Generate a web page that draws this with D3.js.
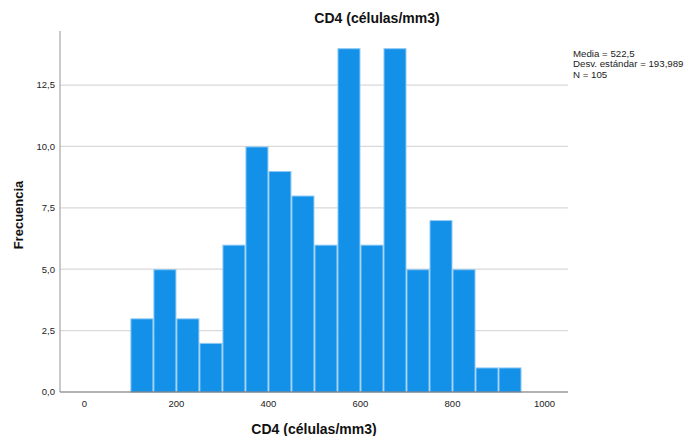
<!DOCTYPE html>
<html><head><meta charset="utf-8">
<script src="https://cdn.jsdelivr.net/npm/d3@7"></script>
<style>body{margin:0;background:#fff;} svg{display:block;font-family:"Liberation Sans",Arial,sans-serif;}</style>
</head><body>
<svg id="c" width="688" height="436"></svg>
<script>
const binStarts = [100,150,200,250,300,350,400,450,500,550,600,650,700,750,800,850,900];
const binWidth = 50;
const counts = [3,5,3,2,6,10,9,8,6,14,6,14,5,7,5,1,1];
const yTicks = [0,2.5,5,7.5,10,12.5];
const xTicks = [0,200,400,600,800,1000];
const statsLines = ["Media = 522,5","Desv. estándar = 193,989","N = 105"];
const title = "CD4 (células/mm3)";
const xTitle = "CD4 (células/mm3)";
const yTitle = "Frecuencia";

const svg = d3.select("#c");
const L=60,R=568,T=31,B=392;
const x = d3.scaleLinear().domain([-53,1051]).range([L,R]);
const y = d3.scaleLinear().domain([0,14.7]).range([B,T]);
const fmt = d => d3.format(".1f")(d).replace(".",",");

// grid
svg.append("g").selectAll("line").data(yTicks.filter(d=>d>0)).join("line")
  .attr("x1",L).attr("x2",R).attr("y1",d=>y(d)).attr("y2",d=>y(d))
  .attr("stroke","#d9d9d9").attr("stroke-width",1.3);

// bars
svg.append("g").selectAll("rect").data(counts.map((c,i)=>({x0:binStarts[i],x1:binStarts[i]+binWidth,c}))).join("rect")
  .attr("x",d=>x(d.x0)+0.5).attr("y",d=>y(d.c)+0.5)
  .attr("width",d=>x(d.x1)-x(d.x0)-1).attr("height",d=>y(0)-y(d.c)-0.5)
  .attr("fill","#1390e8").attr("stroke","#8fcaf4").attr("stroke-width",1);

// axes lines
svg.append("line").attr("x1",L).attr("x2",L).attr("y1",T).attr("y2",B).attr("stroke","#a6a6a6").attr("stroke-width",1.2);
svg.append("line").attr("x1",L).attr("x2",R).attr("y1",B).attr("y2",B).attr("stroke","#666").attr("stroke-width",1.2);

// y tick labels
svg.append("g").selectAll("text").data(yTicks).join("text")
  .attr("x",L-5).attr("y",d=>y(d)).attr("dy","0.35em").attr("text-anchor","end")
  .attr("font-size",9.5).attr("fill","#222").text(fmt);
// x tick labels
svg.append("g").selectAll("text").data(xTicks).join("text")
  .attr("x",d=>x(d)).attr("y",B+12).attr("dy","0.35em").attr("text-anchor","middle")
  .attr("font-size",9.5).attr("fill","#222").text(d=>d);

// titles
svg.append("text").attr("x",377).attr("y",23).attr("text-anchor","middle")
  .attr("font-size",14).attr("font-weight","bold").attr("fill","#111").text(title);
svg.append("text").attr("x",314).attr("y",434).attr("text-anchor","middle")
  .attr("font-size",14).attr("font-weight","bold").attr("fill","#111").text(xTitle);
svg.append("text").attr("transform","translate(23,215) rotate(-90)").attr("text-anchor","middle")
  .attr("font-size",13).attr("font-weight","bold").attr("fill","#111").text(yTitle);

// stats
svg.append("g").selectAll("text").data(statsLines).join("text")
  .attr("x",573).attr("y",(d,i)=>56.5+i*10.5).attr("font-size",9.7).attr("fill","#222").text(d=>d);
</script>
</body></html>
